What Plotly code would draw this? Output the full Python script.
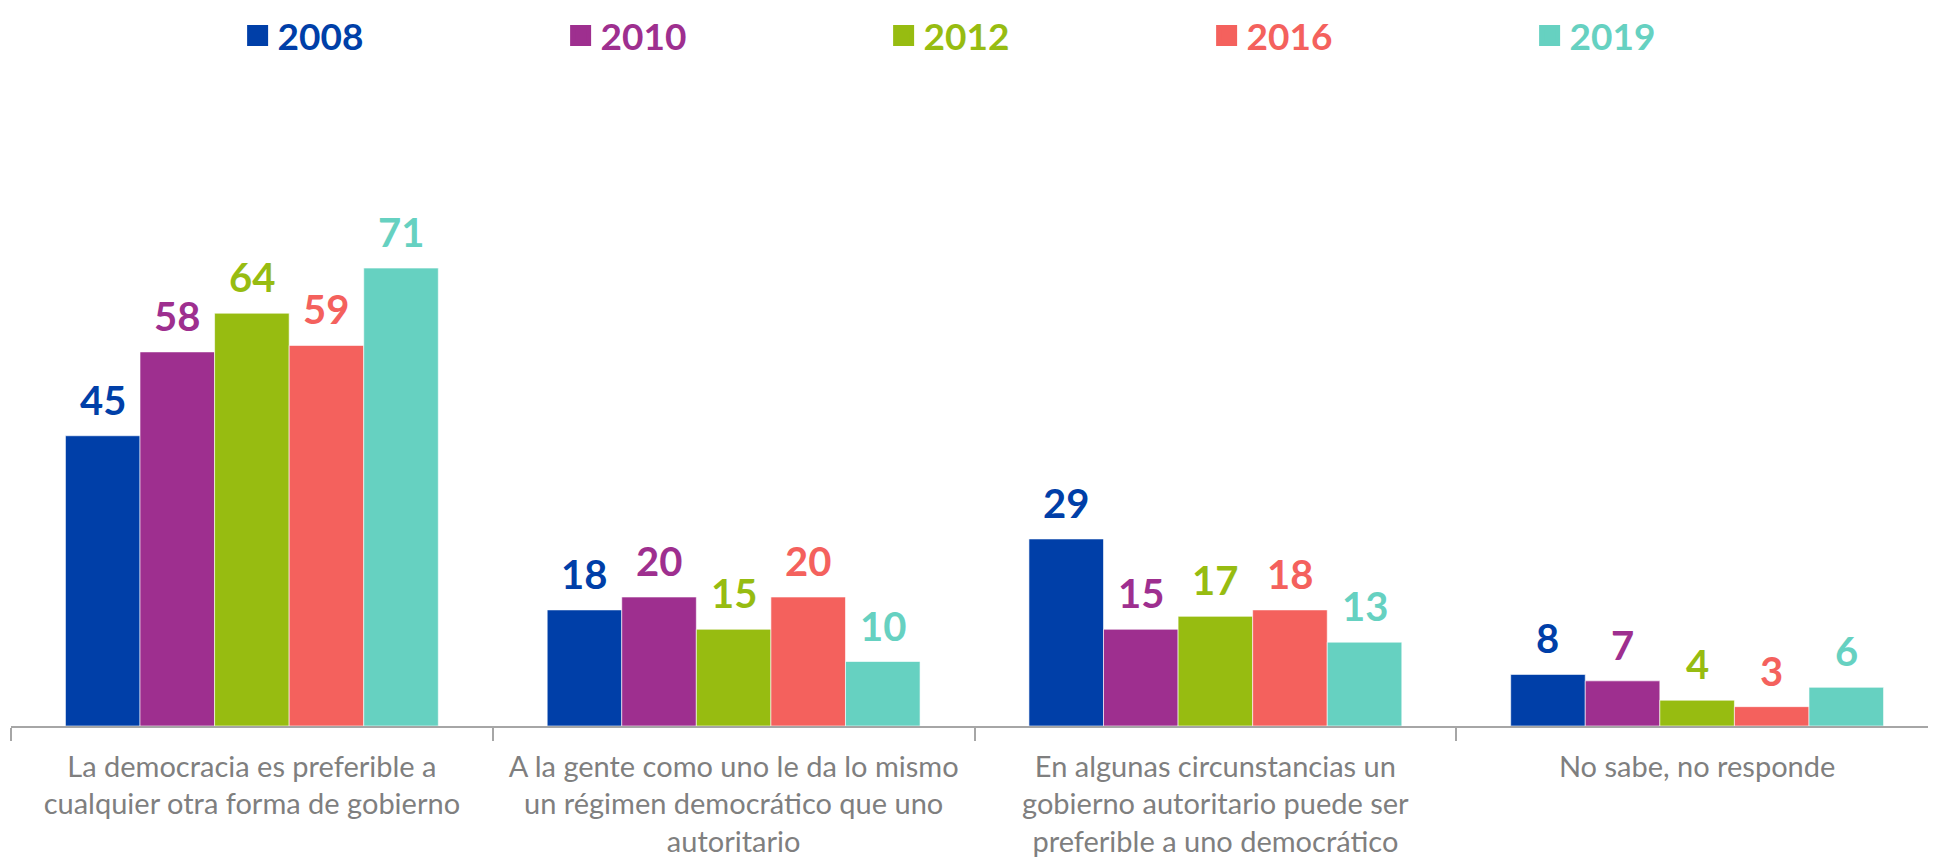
import plotly.graph_objects as go

categories = [
    "La democracia es preferible a<br>cualquier otra forma de gobierno",
    "A la gente como uno le da lo mismo<br>un régimen democrático que uno<br>autoritario",
    "En algunas circunstancias un<br>gobierno autoritario puede ser<br>preferible a uno democrático",
    "No sabe, no responde",
]
years = ["2008", "2010", "2012", "2016", "2019"]
v2008 = [45, 18, 29, 8]
v2010 = [58, 20, 15, 7]
v2012 = [64, 15, 17, 4]
v2016 = [59, 20, 18, 3]
v2019 = [71, 10, 13, 6]
series = [v2008, v2010, v2012, v2016, v2019]
colors = ["#003FA8", "#9E2F8F", "#97BC11", "#F4615D", "#66D1C1"]

W, H = 1936, 860
ML, MR, MT, MB = 3, 6, 73, 142
BARGAP = 0.226
plot_w = W - ML - MR
plot_h = H - MT - MB
cat_w = plot_w / len(categories)
bar_w = cat_w * (1 - BARGAP) / len(series)

fig = go.Figure()
for name, vals, col in zip(years, series, colors):
    fig.add_trace(go.Bar(
        x=categories, y=vals, name=name, legendgroup=name, showlegend=False,
        marker=dict(color=col, line=dict(color="rgba(255,255,255,0.6)", width=1)),
        hoverinfo="skip",
    ))
for name, col in zip(years, colors):
    fig.add_trace(go.Scatter(
        x=[None], y=[None], mode="markers", legendgroup=name,
        name=f"<span style='color:{col}'><b>{name}</b></span>",
        marker=dict(symbol="square", size=16, color=col, line=dict(color=col, width=5)),
    ))

annotations = []
n = len(series)
for i, (vals, col) in enumerate(zip(series, colors)):
    for cat, v in zip(categories, vals):
        annotations.append(dict(
            x=cat, y=v, xref="x", yref="y", text=f"<b>{v}</b>", showarrow=False,
            xanchor="center", yanchor="bottom",
            xshift=(i - (n - 1) / 2) * bar_w, yshift=10,
            font=dict(family="Lato", size=40, color=col),
        ))

fig.update_layout(
    width=W, height=H,
    margin=dict(l=ML, r=MR, t=MT, b=MB, autoexpand=False),
    paper_bgcolor="white", plot_bgcolor="white",
    barmode="group", bargap=BARGAP, bargroupgap=0,
    showlegend=True,
    legend=dict(orientation="h", x=0.1176, xanchor="left",
                y=1 + (MT + 3) / plot_h, yanchor="top", yref="paper",
                entrywidth=278, entrywidthmode="pixels",
                font=dict(family="Lato", size=37), itemclick=False,
                bgcolor="rgba(0,0,0,0)", borderwidth=0),
    font=dict(family="Lato"),
    annotations=annotations,
)
fig.update_xaxes(
    showline=True, linecolor="#A6A6A6", linewidth=1.5,
    ticks="outside", tickson="boundaries", ticklen=13, tickcolor="#A6A6A6", tickwidth=1.5,
    tickfont=dict(family="Lato", size=29, color="#7F7F7F"),
    ticklabelstandoff=14,
    showgrid=False, fixedrange=True,
)
fig.update_yaxes(range=[0, 100], visible=False, showgrid=False, fixedrange=True)

fig.write_html("out.html")
